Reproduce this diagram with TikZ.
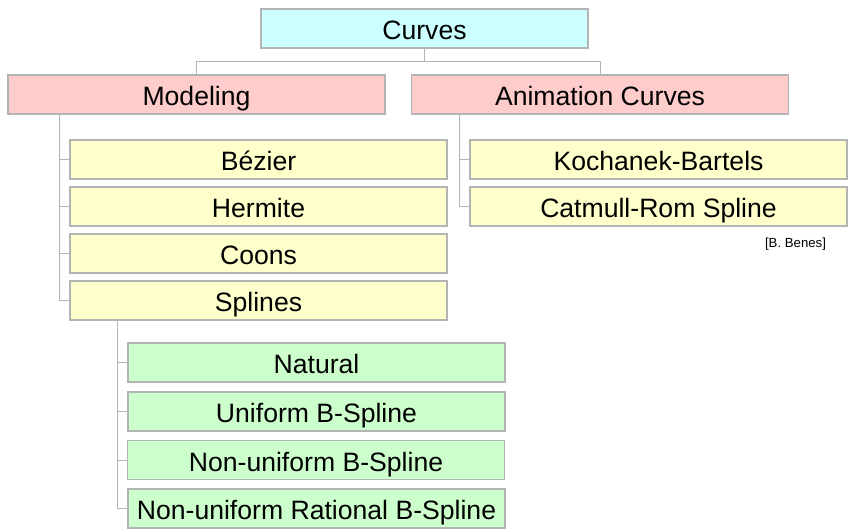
\documentclass[tikz,border=0pt]{standalone}
\usepackage{fontspec}
\setmainfont{Liberation Sans}
\usepackage{tikz}
\usetikzlibrary{calc, shapes, arrows}
\definecolor{cyanbox}{HTML}{CCFFFF}
\definecolor{pinkbox}{HTML}{FFCCCC}
\definecolor{yellowbox}{HTML}{FFFFCC}
\definecolor{greenbox}{HTML}{CCFFCC}
\definecolor{edgegray}{HTML}{B4B4B4}

\begin{document}
\begin{tikzpicture}[x=0.5pt,y=-0.5pt]
\tikzstyle{box}=[rectangle,draw=edgegray,line width=0.6pt,minimum width=188.5pt,minimum height=19.5pt,inner sep=0pt,text height=11.4pt,text depth=0pt,font=\fontsize{13.3}{15}\selectfont]
\tikzstyle{root}=[box,fill=cyanbox,minimum width=163.5pt]
\tikzstyle{branch}=[box,fill=pinkbox]
\tikzstyle{leaf}=[box,fill=yellowbox]
\tikzstyle{spline}=[box,fill=greenbox]
\tikzstyle{link}=[draw=edgegray,line width=0.5pt]
\useasboundingbox (0,0) rectangle (854,529);
\node[root] (C_0) at (424.5,28.5) {Curves};
\node[branch] (M_0) at (196.5,94.5) {Modeling};
\node[branch] (A_0) at (600,94.5) {Animation Curves};
\node[leaf] (M_1) at (258.5,159.5) {Bézier};
\node[leaf] (M_2) at (258.5,206.5) {Hermite};
\node[leaf] (M_3) at (258.5,253.5) {Coons};
\node[leaf] (M_4) at (258.5,300.5) {Splines};
\node[leaf] (A_1) at (658.5,159.5) {Kochanek-Bartels};
\node[leaf] (A_2) at (658.5,206.5) {Catmull-Rom Spline};
\node[spline] (S_1) at (316.5,362.5) {Natural};
\node[spline] (S_2) at (316.5,411.5) {Uniform B-Spline};
\node[spline] (S_3) at (316,460) {Non-uniform B-Spline};
\node[spline] (S_4) at (316.5,508.5) {Non-uniform Rational B-Spline};
\node[font=\fontsize{6.6}{8}\selectfont] (credit) at (795.5,244) {[B. Benes]};
\coordinate (C_j) at (424.5,62);
\coordinate (M_j) at (59,114);
\coordinate (A_j) at (459,114);
\coordinate (S_j) at (117,320);
\draw[link] (C_0.south) -- (C_j) -| (M_0.north) (C_j) -| (A_0.north);
\draw[link] (M_j) |- (M_1.west) (M_j) |- (M_2.west) (M_j) |- (M_3.west) (M_j) |- (M_4.west);
\draw[link] (A_j) |- (A_1.west) (A_j) |- (A_2.west);
\draw[link] (S_j) |- (S_1.west) (S_j) |- (S_2.west) (S_j) |- (S_3.west) (S_j) |- (S_4.west);
\end{tikzpicture}
\end{document}
